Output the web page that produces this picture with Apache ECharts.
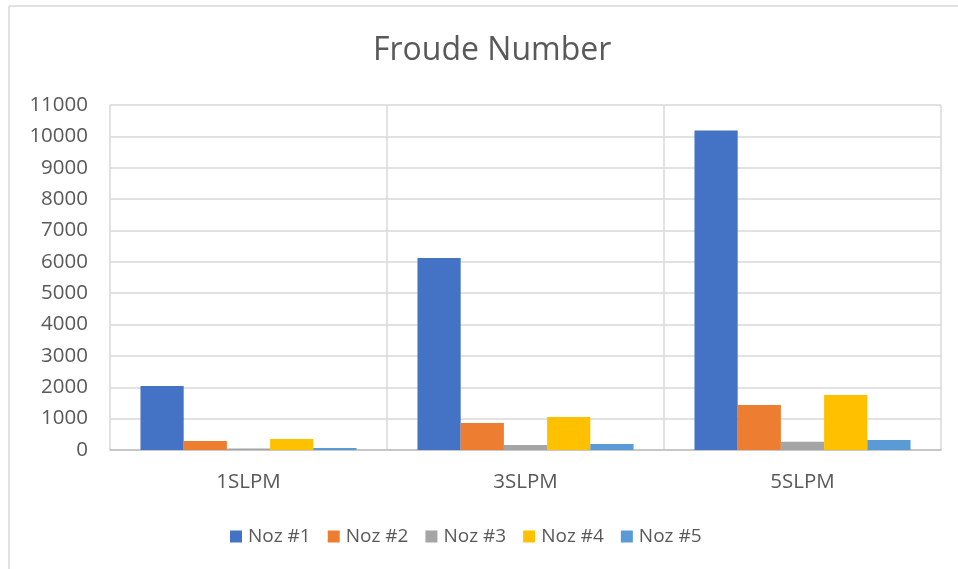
<!DOCTYPE html>
<html>
<head>
<meta charset="utf-8">
<script src="https://cdn.jsdelivr.net/npm/echarts@6/dist/echarts.min.js"></script>
<style>
html,body{margin:0;padding:0;background:#fff;}
#main{width:958px;height:569px;}
</style>
</head>
<body>
<div id="main"></div>
<script>
var categories = ['1SLPM', '3SLPM', '5SLPM'];
var seriesNames = ['Noz #1', 'Noz #2', 'Noz #3', 'Noz #4', 'Noz #5'];
var noz1 = [2040, 6120, 10185];
var noz2 = [287, 860, 1435];
var noz3 = [45, 160, 265];
var noz4 = [350, 1053, 1754];
var noz5 = [64, 191, 319];
var yTicks = [0, 1000, 2000, 3000, 4000, 5000, 6000, 7000, 8000, 9000, 10000, 11000];
var colors = ['#4472C4', '#ED7D31', '#A5A5A5', '#FFC000', '#5B9BD5'];
var values = [noz1, noz2, noz3, noz4, noz5];

var font = '"Open Sans", "Noto Sans", sans-serif';
var chart = echarts.init(document.getElementById('main'), null, {renderer: 'canvas'});
chart.setOption({
  animation: false,
  color: colors,
  title: {
    text: 'Froude Number',
    left: 368,
    top: 30,
    textStyle: {color: '#595959', fontSize: 32, fontWeight: 'normal', fontFamily: font}
  },
  legend: {
    data: seriesNames,
    bottom: 18,
    left: 225,
    itemWidth: 12,
    itemHeight: 12,
    itemGap: 17,
    icon: 'rect',
    textStyle: {color: '#595959', fontSize: 19, fontFamily: font, padding: [0, 0, 0, 1]}
  },
  grid: {left: 110, right: 17, top: 105, bottom: 119, containLabel: false},
  xAxis: {
    type: 'category',
    data: categories,
    axisLine: {show: true, lineStyle: {color: '#bfbfbf', width: 1.5}},
    axisTick: {show: false},
    splitLine: {show: true, interval: 0, lineStyle: {color: '#d9d9d9', width: 1.5}},
    axisLabel: {color: '#595959', fontSize: 20.5, fontFamily: font, margin: 22}
  },
  yAxis: {
    type: 'value',
    min: 0,
    max: 11000,
    interval: 1000,
    axisLine: {show: false},
    axisTick: {show: false},
    splitLine: {show: true, lineStyle: {color: '#d9d9d9', width: 1.5}},
    axisLabel: {color: '#595959', fontSize: 20.5, fontFamily: font, margin: 22,
      formatter: function (v) { return yTicks.indexOf(v) >= 0 ? String(v) : ''; }}
  },
  graphic: [
    {type: 'line', shape: {x1: 9, y1: 6, x2: 958, y2: 6}, style: {stroke: '#d9d9d9', lineWidth: 1.5}, silent: true},
    {type: 'line', shape: {x1: 9, y1: 6, x2: 9, y2: 569}, style: {stroke: '#d9d9d9', lineWidth: 1.5}, silent: true}
  ],
  series: seriesNames.map(function (n, i) {
    return {
      name: n,
      type: 'bar',
      data: values[i],
      barGap: '0%',
      barCategoryGap: '22%',
      itemStyle: {color: colors[i]}
    };
  })
});
</script>
</body>
</html>
